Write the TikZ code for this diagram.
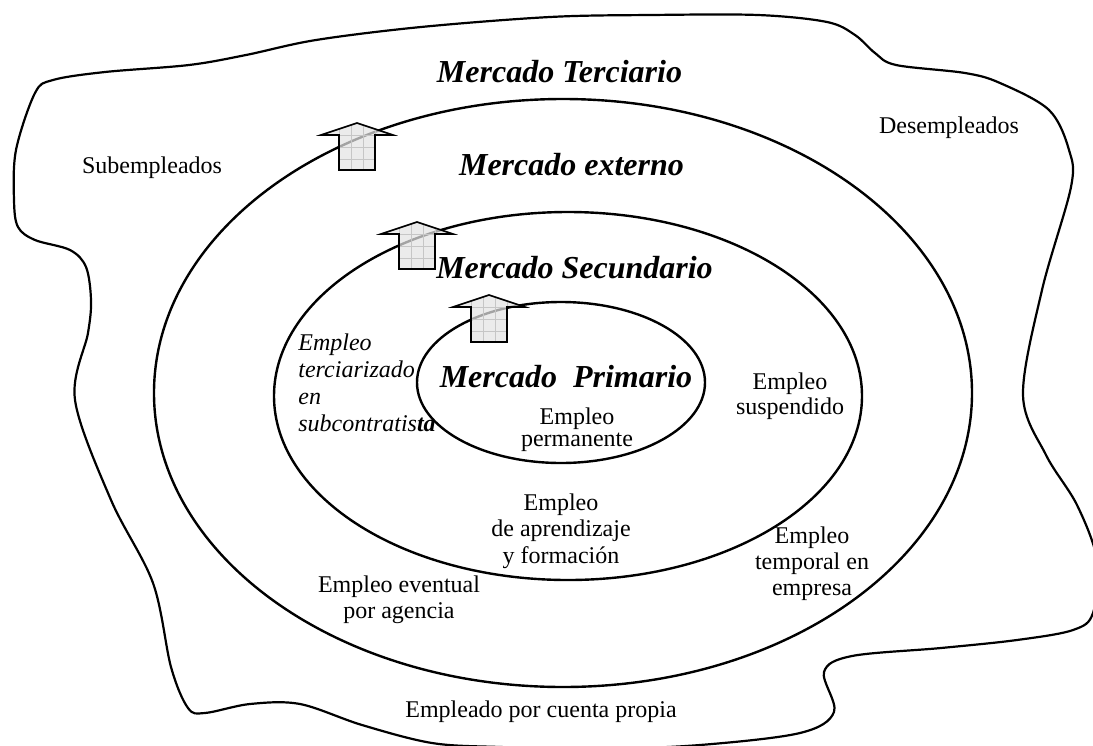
\documentclass[tikz,border=0pt]{standalone}
\usepackage{fontspec}
\setmainfont{Liberation Serif}
\newcommand\marketarrow[3]{%
  % #1 name, #2 cx, #3 top
  \coordinate (#1) at (#2,#3);
  \path[arrowfill] (#2,#3) -- (#2+36,#3+12) -- (#2+18,#3+12) -- (#2+18,#3+47) -- (#2-18,#3+47) -- (#2-18,#3+12) -- (#2-36,#3+12) -- cycle;
  \begin{scope}
    \clip (#2,#3) -- (#2+36,#3+12) -- (#2+18,#3+12) -- (#2+18,#3+47) -- (#2-18,#3+47) -- (#2-18,#3+12) -- (#2-36,#3+12) -- cycle;
    \foreach \gx in {-30,-18,-6,6,18,30} {\draw[arrowgrid] (#2+\gx,#3) -- (#2+\gx,#3+47);}
    \foreach \gy in {12,24,36} {\draw[arrowgrid] (#2-36,#3+\gy) -- (#2+36,#3+\gy);}
  \end{scope}
  \draw[arrowline] (#2,#3) -- (#2+36,#3+12) -- (#2+18,#3+12) -- (#2+18,#3+47) -- (#2-18,#3+47) -- (#2-18,#3+12) -- (#2-36,#3+12) -- cycle;
}
\begin{document}
\begin{tikzpicture}[x=0.5pt,y=-0.5pt,
  lbl/.style={font=\fontsize{12}{13}\selectfont, align=center, inner sep=0pt},
  ttl/.style={font=\fontsize{16}{18}\selectfont\bfseries\itshape, inner sep=0pt, anchor=base},
  ring/.style={draw=black, line width=1.2pt},
  blob/.style={draw=black, line width=1.1pt},
  arrowfill/.style={fill=gray!22, fill opacity=0.72},
  arrowgrid/.style={draw=gray!45, line width=0.3pt},
  arrowline/.style={draw=black, line width=0.8pt, line join=miter}]
\useasboundingbox (0,0) rectangle (1093,745);

% outer irregular region
\draw[blob] plot[smooth cycle, tension=0.55] coordinates {
  (35,93) (53,80) (105,72) (189,65) (246,55) (316,40) (421,27) (550,17)
  (650,15) (758,15) (827,22) (855,35) (875,53) (896,65) (965,73) (1000,83)
  (1049,110) (1069,150) (1071,187) (1042,290) (1023,395) (1046,455)
  (1077,505) (1097,560) (1093,613) (1073,630) (1017,640) (941,648)
  (852,656) (824,672) (834,712) (800,733) (700,745) (600,749) (500,747)
  (432,743) (362,725) (300,704) (250,704) (205,713) (188,708) (171,667)
  (153,583) (111,500) (75,400) (88,333) (91,300) (86,267) (70,250)
  (35,240) (18,227) (14,200) (16,150)};

% rings
\draw[ring] (563,393) ellipse [x radius=409, y radius=294];
\draw[ring] (568,396) ellipse [x radius=294, y radius=184];
\draw[ring] (561,382.5) ellipse [x radius=144, y radius=80.5];

% arrows
\marketarrow{a1}{357}{123}
\marketarrow{a2}{417}{222}
\marketarrow{a3}{489}{295}

% titles
\node[ttl] (terc) at (559.5,82) {Mercado Terciario};
\node[ttl] (ext) at (571.5,175) {Mercado externo};
\node[ttl] (sec) at (574.5,278) {Mercado Secundario};
\node[ttl] (prim) at (566,387) {Mercado\ \ Primario};

% labels
\node[lbl, font=\fontsize{12}{11.2}\selectfont] (perm) at (577,430) {Empleo\\permanente};
\node[lbl, font=\fontsize{12}{12.5}\selectfont] (susp) at (790,396) {Empleo\\suspendido};
\node[lbl, align=left, anchor=west, font=\fontsize{12}{13.5}\selectfont\itshape] (terz) at (298,383.3) {Empleo\\terciarizado\\en\\subcontratis\textbf{ta}};
\node[lbl, font=\fontsize{12}{13.25}\selectfont] (apr) at (561,531) {Empleo\\de aprendizaje\\y formación};
\node[lbl] (temp) at (812,563.4) {Empleo\\temporal en\\empresa};
\node[lbl] (event) at (399,599.4) {Empleo eventual\\por agencia};
\node[lbl, anchor=base] (propia) at (541,717) {Empleado por cuenta propia};
\node[lbl, anchor=base] (sub) at (152,173) {Subempleados};
\node[lbl, anchor=base] (desem) at (949,133) {Desempleados};
\end{tikzpicture}
\end{document}
